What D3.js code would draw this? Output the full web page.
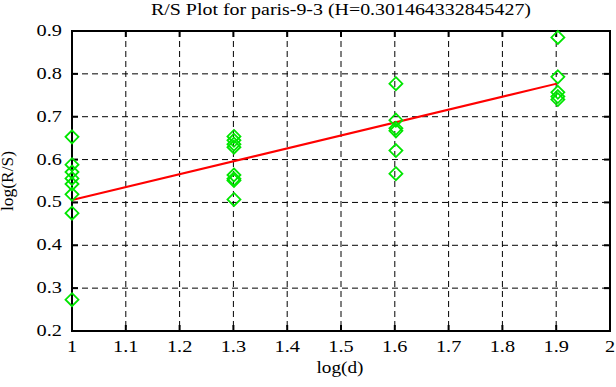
<!DOCTYPE html>
<html lang="en">
<head>
<meta charset="utf-8">
<title>R/S Plot</title>
<script src="https://cdn.jsdelivr.net/npm/d3@7"></script>
<style>
  body { margin: 0; background: #fff; }
  text { font-family: "Liberation Serif", "DejaVu Serif", serif; fill: #000; }
</style>
</head>
<body>
<div id="vizContainer"></div>
<script>
// ---- data ----
var logD = [1, 1.30103, 1.60206, 1.90309];
var logRS_1 = [0.653, 0.588, 0.571, 0.556, 0.543, 0.519, 0.475, 0.273];
var logRS_2 = [0.654, 0.645, 0.636, 0.629, 0.564, 0.555, 0.551, 0.507];
var logRS_3 = [0.777, 0.692, 0.673, 0.667, 0.621, 0.567];
var logRS_4 = [0.885, 0.793, 0.757, 0.747, 0.740];
var hurst = 0.301464332845427;
var intercept = 0.5055;
var xTicks = [1, 1.1, 1.2, 1.3, 1.4, 1.5, 1.6, 1.7, 1.8, 1.9, 2];
var yTicks = [0.2, 0.3, 0.4, 0.5, 0.6, 0.7, 0.8, 0.9];

var groups = [logRS_1, logRS_2, logRS_3, logRS_4];
var points = [];
groups.forEach(function(g, i) {
  g.forEach(function(v) { points.push({x: logD[i], y: v}); });
});

// ---- canvas ----
var width = 616, height = 387;
var pLeft = 72, pRight = 610, pTop = 31, pBottom = 331;
var fs = 16, sx = 1.27; // wide bitmap-like font: stretch horizontally

var svg = d3.select("#vizContainer").append("svg")
  .attr("width", width)
  .attr("height", height);

var x = d3.scaleLinear().domain([1, 2]).range([pLeft, pRight]);
var y = d3.scaleLinear().domain([0.2, 0.9]).range([pBottom, pTop]);

// grid (dashed)
svg.selectAll(".vgrid").data(xTicks.slice(1, -1)).enter().append("line")
  .attr("x1", function(d) { return x(d); }).attr("x2", function(d) { return x(d); })
  .attr("y1", pTop).attr("y2", pBottom)
  .attr("stroke", "#000").attr("stroke-width", 1).attr("stroke-dasharray", "6,4");
svg.selectAll(".hgrid").data(yTicks.slice(1, -1)).enter().append("line")
  .attr("x1", pLeft).attr("x2", pRight)
  .attr("y1", function(d) { return y(d); }).attr("y2", function(d) { return y(d); })
  .attr("stroke", "#000").attr("stroke-width", 1).attr("stroke-dasharray", "6,4");

// inward ticks on all sides
var tl = 6;
svg.selectAll(".tb").data(xTicks).enter().append("line")
  .attr("x1", function(d) { return x(d); }).attr("x2", function(d) { return x(d); })
  .attr("y1", pBottom).attr("y2", pBottom - tl).attr("stroke", "#000").attr("stroke-width", 2);
svg.selectAll(".tt").data(xTicks).enter().append("line")
  .attr("x1", function(d) { return x(d); }).attr("x2", function(d) { return x(d); })
  .attr("y1", pTop).attr("y2", pTop + tl).attr("stroke", "#000").attr("stroke-width", 2);
svg.selectAll(".tlft").data(yTicks).enter().append("line")
  .attr("x1", pLeft).attr("x2", pLeft + tl)
  .attr("y1", function(d) { return y(d); }).attr("y2", function(d) { return y(d); })
  .attr("stroke", "#000").attr("stroke-width", 2);
svg.selectAll(".trgt").data(yTicks).enter().append("line")
  .attr("x1", pRight).attr("x2", pRight - tl)
  .attr("y1", function(d) { return y(d); }).attr("y2", function(d) { return y(d); })
  .attr("stroke", "#000").attr("stroke-width", 2);

// frame
svg.append("rect")
  .attr("x", pLeft).attr("y", pTop)
  .attr("width", pRight - pLeft).attr("height", pBottom - pTop)
  .attr("fill", "none").attr("stroke", "#000").attr("stroke-width", 2);

// helper for stretched text (tick labels)
function label(tx, ty, str, anchor) {
  return svg.append("text")
    .attr("transform", "translate(" + tx + "," + ty + ") scale(" + sx + ",1)")
    .attr("text-anchor", anchor).attr("font-size", fs)
    .text(str);
}
// helper for titles, fitted to the width seen in the picture
function title(tx, ty, str, len, rot) {
  return svg.append("text")
    .attr("transform", "translate(" + tx + "," + ty + ")" + (rot ? " rotate(" + rot + ")" : ""))
    .attr("x", -len / 2)
    .attr("font-size", fs)
    .attr("textLength", len).attr("lengthAdjust", "spacingAndGlyphs")
    .text(str);
}

// tick labels
xTicks.forEach(function(d) { label(x(d), 352, d3.format("")(d), "middle"); });
yTicks.forEach(function(d) { label(62, y(d) + 5, d3.format(".1f")(d), "end"); });

// regression line
svg.append("line")
  .attr("x1", x(1)).attr("y1", y(intercept))
  .attr("x2", x(logD[3])).attr("y2", y(intercept + hurst * (logD[3] - 1)))
  .attr("stroke", "#ff0000").attr("stroke-width", 2);

// diamonds
var r = 6.5;
svg.selectAll(".pt").data(points).enter().append("path")
  .attr("d", function(d) {
    var cx = x(d.x), cy = y(d.y);
    return "M" + cx + "," + (cy - r) + "L" + (cx + r) + "," + cy +
           "L" + cx + "," + (cy + r) + "L" + (cx - r) + "," + cy + "Z";
  })
  .attr("fill", "none").attr("stroke", "#00e600").attr("stroke-width", 1.8);

// titles
title(341, 15, "R/S Plot for paris-9-3 (H=" + hurst + ")", 380);
title(340, 373, "log(d)", 47);
title(13, (pTop + pBottom) / 2, "log(R/S)", 60, -90);
</script>
</body>
</html>
